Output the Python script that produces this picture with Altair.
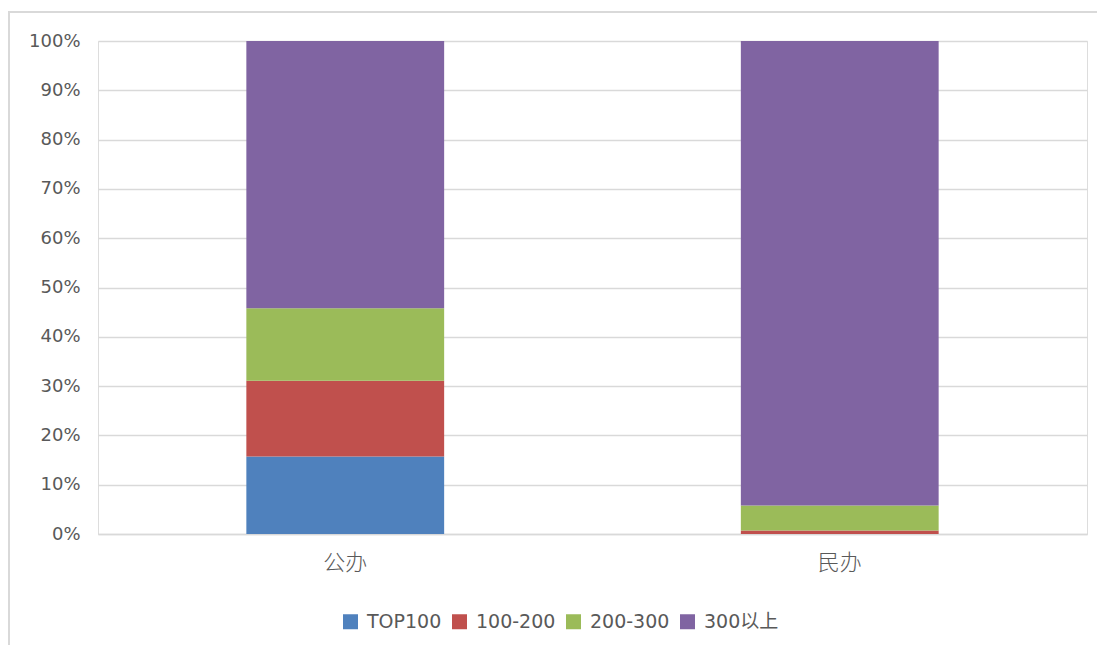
import altair as alt
import pandas as pd

categories = ["公办", "民办"]
series = ["TOP100", "100-200", "200-300", "300以上"]
colors = ["#4f81bd", "#c0504d", "#9bbb59", "#8064a2"]
gongban = [15.7, 15.4, 14.7, 54.2]
minban = [0.0, 0.7, 5.1, 94.2]
y_ticks = [0, 0.1, 0.2, 0.3, 0.4, 0.5, 0.6, 0.7, 0.8, 0.9, 1.0]

rows = []
for cat, vals in zip(categories, [gongban, minban]):
    for i, (s, v) in enumerate(zip(series, vals)):
        rows.append({"cat": cat, "series": s, "value": v, "idx": i})
df = pd.DataFrame(rows)

FONT = "DejaVu Sans, Noto Sans CJK SC, sans-serif"
CJK = "Noto Sans CJK SC, sans-serif"

bars = alt.Chart(df).mark_bar().encode(
    x=alt.X("cat:N", sort=categories,
            scale=alt.Scale(paddingInner=0.6, paddingOuter=0.3),
            axis=alt.Axis(title=None, labelAngle=0, tickSize=0, labelPadding=18,
                          labelFontSize=22, labelColor="#595959", labelFont=CJK,
                          labelFontWeight=300,
                          domainColor="#d9d9d9", domainWidth=1.5)),
    y=alt.Y("value:Q", stack="normalize",
            scale=alt.Scale(domain=[0, 1], nice=False),
            axis=alt.Axis(title=None, values=y_ticks, format=".0%", tickSize=0,
                          labelPadding=18, labelFontSize=18, labelColor="#595959",
                          labelFont=FONT, domain=False, gridColor="#d9d9d9",
                          gridWidth=1.5)),
    color=alt.Color("series:N", scale=alt.Scale(domain=series, range=colors),
                    legend=alt.Legend(title=None, orient="none", direction="horizontal",
                                      legendX=243, legendY=571, symbolType="square",
                                      symbolSize=225, symbolStrokeWidth=0,
                                      labelFontSize=19, labelColor="#595959",
                                      labelFont=FONT, labelOffset=7, columnPadding=8)),
    order=alt.Order("idx:Q", sort="ascending"),
)

frame = alt.Chart(df).mark_rect(filled=False, stroke="#d9d9d9", strokeWidth=1.5).encode(
    x=alt.value(-89), x2=alt.value(1110), y=alt.value(-29), y2=alt.value(700)
)

chart = alt.layer(frame, bars).properties(
    width=989, height=493,
    padding={"left": 90, "top": 33, "right": 10, "bottom": 111},
    autosize=alt.AutoSizeParams(type="none"),
).configure_view(stroke=None).configure(background="white")

chart.save("out.html", embed_options={"renderer": "svg", "actions": False})
